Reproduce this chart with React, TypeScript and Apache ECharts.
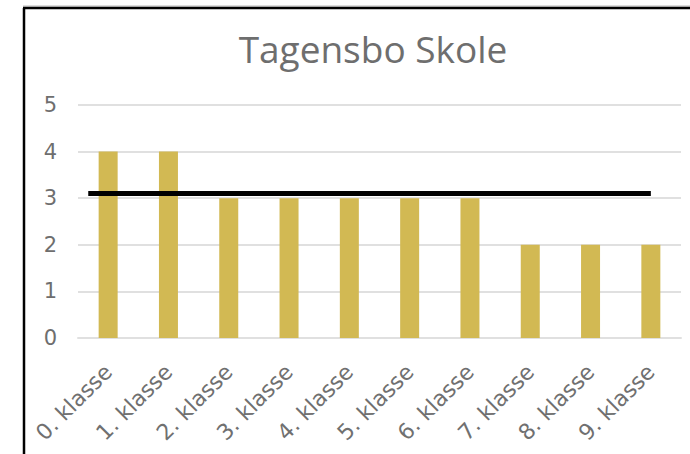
import React, { useEffect, useRef } from "react";
import * as echarts from "echarts";

const categories = ["0. klasse", "1. klasse", "2. klasse", "3. klasse", "4. klasse", "5. klasse", "6. klasse", "7. klasse", "8. klasse", "9. klasse"];
const barValues = [4, 4, 3, 3, 3, 3, 3, 2, 2, 2];
const averageLine: [number, number][] = [[-0.33, 3.1], [9.0, 3.1]];
const title = "Tagensbo Skole";

export default function App() {
  const ref = useRef<HTMLDivElement>(null);
  useEffect(() => {
    if (!ref.current) return;
    const chart = echarts.init(ref.current, undefined, { renderer: "svg" });
    chart.setOption({
      animation: false,
      backgroundColor: "#ffffff",
      title: {
        text: title,
        left: 368,
        top: 25,
        textAlign: "center",
        textStyle: { fontFamily: "Open Sans", fontSize: 37, fontWeight: "normal", color: "#6e6e6e" },
      },
      graphic: [
        { type: "line", shape: { x1: 23, y1: 6, x2: 690, y2: 6 }, style: { stroke: "#bbbbbb", lineWidth: 1 } },
        { type: "line", shape: { x1: 23, y1: 8, x2: 690, y2: 8 }, style: { stroke: "#000000", lineWidth: 2.5 } },
        { type: "line", shape: { x1: 24, y1: 8, x2: 24, y2: 454 }, style: { stroke: "#000000", lineWidth: 2.5 } },
      ],
      grid: { left: 78, right: 9, top: 105, bottom: 116, containLabel: false },
      xAxis: [
        {
          type: "category",
          data: categories,
          axisLine: { show: true, lineStyle: { color: "#e0e0e0", width: 2 } },
          axisTick: { show: false },
          axisLabel: {
            rotate: 45,
            margin: 30,
            fontFamily: "DejaVu Sans",
            fontSize: 22,
            color: "#707070",
            interval: 0,
          },
        },
        { type: "value", min: -0.5, max: 9.5, show: false },
      ],
      yAxis: {
        type: "value",
        min: 0,
        max: 5,
        interval: 1,
        axisLine: { show: false },
        axisTick: { show: false },
        splitLine: { lineStyle: { color: "#e0e0e0", width: 2 } },
        axisLabel: { margin: 21, fontFamily: "DejaVu Sans", fontSize: 21, color: "#6e6e6e" },
      },
      series: [
        {
          type: "bar",
          data: barValues,
          barWidth: 19,
          itemStyle: { color: "#D2B953" },
        },
        {
          type: "line",
          xAxisIndex: 1,
          data: averageLine,
          symbol: "none",
          lineStyle: { color: "#000000", width: 5 },
          z: 5,
        },
      ],
    });
    return () => chart.dispose();
  }, []);
  return (
    <div style={{ position: "fixed", left: 0, top: 0, width: 690, height: 454, background: "#fff" }}>
      <div ref={ref} style={{ width: 690, height: 454 }} />
    </div>
  );
}
